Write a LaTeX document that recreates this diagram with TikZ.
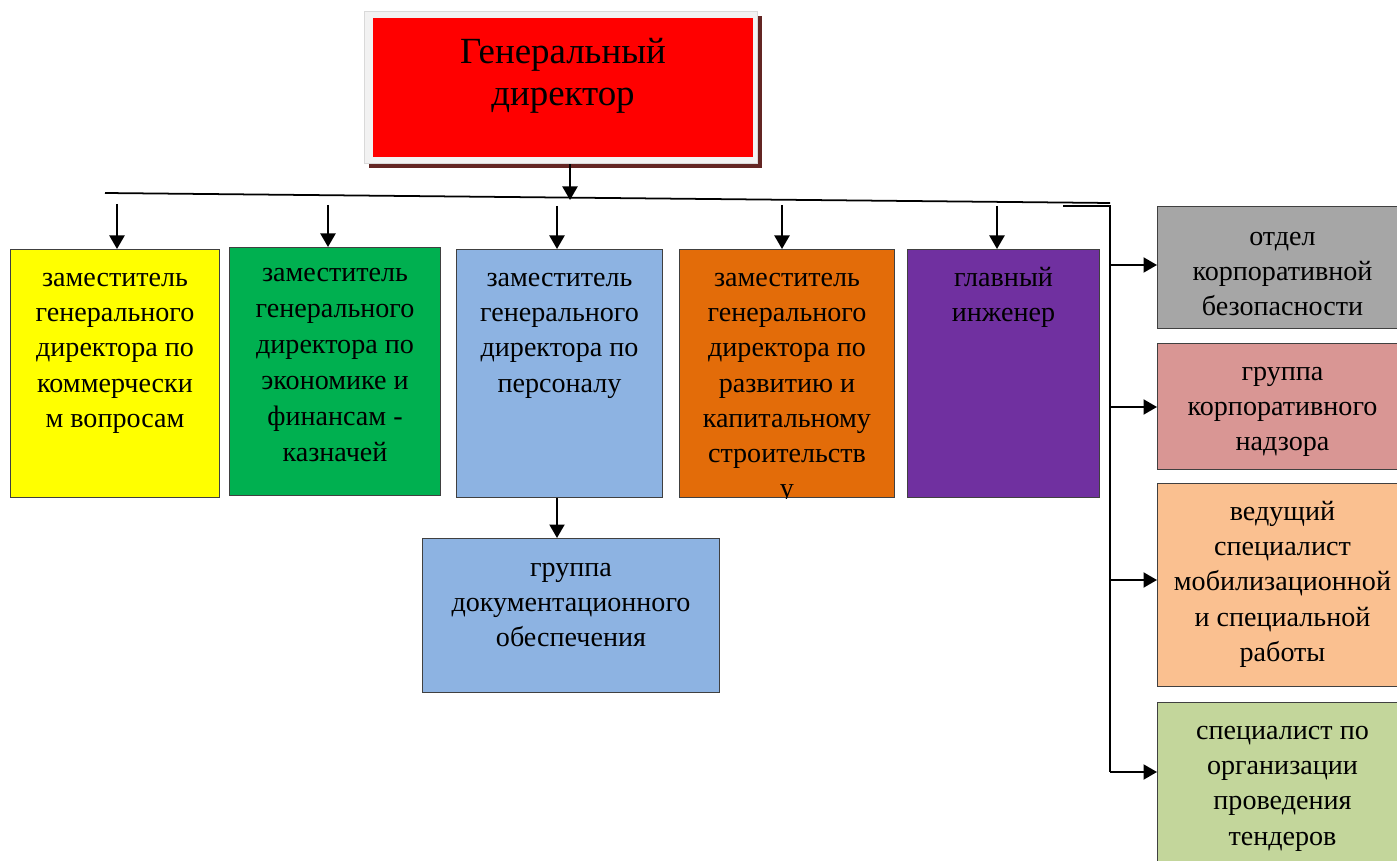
\documentclass[tikz,border=0pt]{standalone}
\usepackage{fontspec}
\setmainfont{Liberation Serif}
\usetikzlibrary{arrows.meta,positioning,shadows}

\definecolor{redbox}{HTML}{FF0000}
\definecolor{framec}{HTML}{F2F2F2}
\definecolor{shadowc}{HTML}{632523}
\definecolor{yellowbox}{HTML}{FFFF00}
\definecolor{greenbox}{HTML}{00B050}
\definecolor{bluebox}{HTML}{8DB3E2}
\definecolor{orangebox}{HTML}{E36C09}
\definecolor{purplebox}{HTML}{7030A0}
\definecolor{graybox}{HTML}{A6A6A6}
\definecolor{pinkbox}{HTML}{D99694}
\definecolor{peachbox}{HTML}{FAC090}
\definecolor{lgreenbox}{HTML}{C3D69B}

\tikzset{
  box/.style={draw=black!75, line width=0.6pt, inner sep=0pt, anchor=north west},
  lbl/.style={font=\fontsize{16}{20}\selectfont, align=center, anchor=north, inner sep=0pt},
  toplbl/.style={font=\fontsize{21}{24.4}\selectfont, align=center, anchor=north, inner sep=0pt},
  arr/.style={->, line width=1.2pt},
}

\begin{document}
\begin{tikzpicture}[x=0.02cm, y=-0.02cm, >={Triangle[length=0.27cm,width=0.3cm]}]
        \useasboundingbox (0,0) rectangle (1397,861);

        % director
        \node[box, draw=black!15, fill=framec, minimum width=7.86cm, minimum height=3.04cm,
              general shadow={fill=shadowc, shadow xshift=0.09cm, shadow yshift=-0.09cm}]
              (dirframe) at (364,11) {};
        \node[box, draw=none, fill=redbox, minimum width=7.62cm, minimum height=2.8cm] (gendir) at (372,17) {};
        \node[toplbl] (gendir-t) at ([yshift=-0.41cm]gendir.north) {Генеральный\\директор};

        % deputies
        \node[box, fill=yellowbox, minimum width=4.18cm, minimum height=4.96cm] (zamkom) at (10,249) {};
        \node[lbl] (zamkom-t) at ([yshift=-0.48cm]zamkom.north) {заместитель\\генерального\\директора по\\коммерчески\\м вопросам};

        \node[box, fill=greenbox, minimum width=4.22cm, minimum height=4.96cm] (zamfin) at (229,247) {};
        \node[lbl, font=\fontsize{16}{20.5}\selectfont] (zamfin-t) at ([yshift=-0.42cm]zamfin.north) {заместитель\\генерального\\директора по\\экономике и\\финансам -\\казначей};

        \node[box, fill=bluebox, minimum width=4.12cm, minimum height=4.96cm] (zamper) at (456,249) {};
        \node[lbl] (zamper-t) at ([yshift=-0.48cm]zamper.north) {заместитель\\генерального\\директора по\\персоналу};

        \node[box, fill=orangebox, minimum width=4.3cm, minimum height=4.96cm] (zamstr) at (679,249) {};
        \begin{scope}
          \clip (zamstr.north west) rectangle (zamstr.south east);
          \node[lbl] (zamstr-t) at ([yshift=-0.48cm]zamstr.north) {заместитель\\генерального\\директора по\\развитию и\\капитальному\\строительств\\у};
        \end{scope}

        \node[box, fill=purplebox, minimum width=3.84cm, minimum height=4.96cm] (glinzh) at (907,249) {};
        \node[lbl] (glinzh-t) at ([yshift=-0.36cm]glinzh.north) {главный\\инженер};

        \node[box, fill=bluebox, minimum width=5.94cm, minimum height=3.08cm] (docgr) at (422,538) {};
        \node[lbl] (docgr-t) at ([yshift=-0.5cm]docgr.north) {группа\\документационного\\обеспечения};

        % right column
        \node[box, fill=graybox, minimum width=5.0cm, minimum height=2.44cm] (otdel) at (1157,206) {};
        \node[lbl] (otdel-t) at ([yshift=-0.52cm]otdel.north) {отдел\\корпоративной\\безопасности};

        \node[box, fill=pinkbox, minimum width=5.0cm, minimum height=2.52cm] (nadzor) at (1157,343) {};
        \node[lbl] (nadzor-t) at ([yshift=-0.48cm]nadzor.north) {группа\\корпоративного\\надзора};

        \node[box, fill=peachbox, minimum width=5.0cm, minimum height=4.06cm] (mobil) at (1157,483) {};
        \node[lbl] (mobil-t) at ([yshift=-0.36cm]mobil.north) {ведущий\\специалист\\мобилизационной\\и специальной\\работы};

        \node[box, fill=lgreenbox, minimum width=5.0cm, minimum height=3.6cm] (tender) at (1157,702) {};
        \node[lbl] (tender-t) at ([yshift=-0.48cm]tender.north) {специалист по\\организации\\проведения\\тендеров};

        % bus lines
        \coordinate (busL) at (105,193);
        \coordinate (busR) at (1110,203);
        \coordinate (busM) at (570,200);
        \coordinate (sideT) at (1063,206);
        \coordinate (sideC) at (1110,206);
        \coordinate (sideB) at (1110,772);
        \draw[line width=1pt] (busL) -- (busR);
        \draw[line width=1pt] (sideT) -- (sideC) -- (sideB);
        \draw[arr] (busM |- dirframe.south) -- (busM);

        % arrows down
        \coordinate (a1) at (117,204);
        \coordinate (a2) at (328,205);
        \coordinate (a3) at (557,206);
        \coordinate (a4) at (782,205);
        \coordinate (a5) at (997,206);
        \draw[arr] (a1) -- (a1 |- zamkom.north);
        \draw[arr] (a2) -- (a2 |- zamfin.north);
        \draw[arr] (a3) -- (a3 |- zamper.north);
        \draw[arr] (a4) -- (a4 |- zamstr.north);
        \draw[arr] (a5) -- (a5 |- glinzh.north);
        \draw[arr] (zamper.south -| a3) -- (docgr.north -| a3);

        % arrows right
        \coordinate (r1) at (1110,265);
        \coordinate (r2) at (1110,407);
        \coordinate (r3) at (1110,580);
        \coordinate (r4) at (1110,772);
        \draw[arr] (r1) -- (r1 -| otdel.west);
        \draw[arr] (r2) -- (r2 -| nadzor.west);
        \draw[arr] (r3) -- (r3 -| mobil.west);
        \draw[arr] (r4) -- (r4 -| tender.west);
\end{tikzpicture}
\end{document}
